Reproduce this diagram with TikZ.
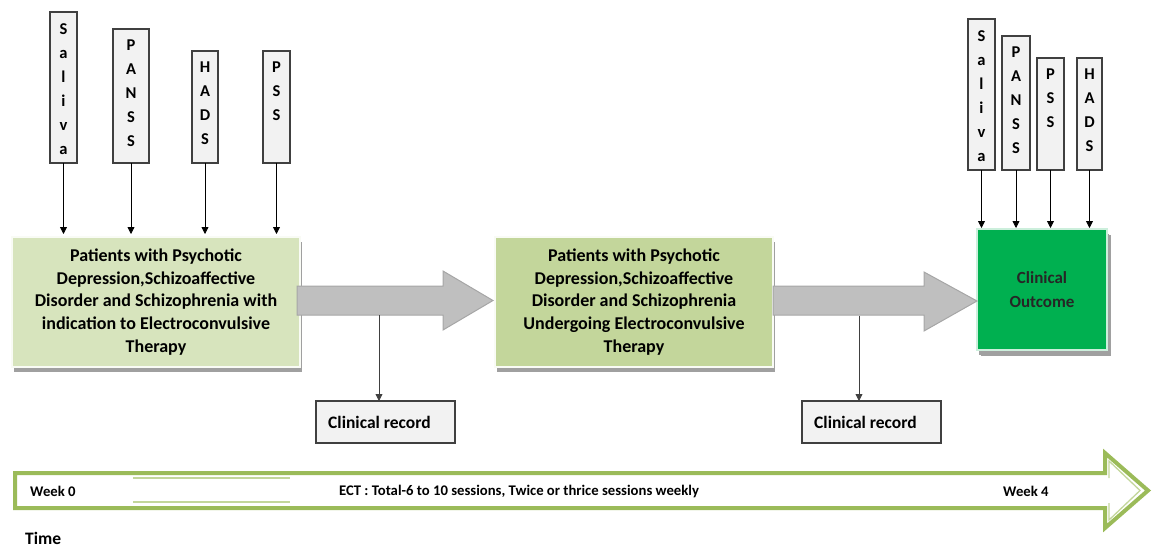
\documentclass[tikz,border=0pt]{standalone}
\usepackage{fontspec}
\setmainfont{Carlito}
\usetikzlibrary{arrows.meta,shadows}
\definecolor{boxgray}{HTML}{F2F2F2}
\definecolor{edgegray}{HTML}{404040}
\definecolor{lightolive}{HTML}{D7E4BD}
\definecolor{midolive}{HTML}{C3D69B}
\definecolor{olive}{HTML}{9BBB59}
\definecolor{brightgreen}{HTML}{00B050}
\definecolor{arrowgray}{HTML}{BFBFBF}
\definecolor{arrowedge}{HTML}{A6A6A6}
\definecolor{shadowgray}{HTML}{A0A0A0}
\begin{document}
\begin{tikzpicture}[x=1pt,y=-1pt,
  vbox/.style={draw=edgegray, fill=boxgray, line width=1.1pt, anchor=north west, inner sep=0pt, outer sep=0pt},
  letters/.style={anchor=north, inner sep=0pt, align=center, font=\fontsize{16.5}{24}\selectfont\bfseries},
  feed/.style={-{Triangle[width=7pt,length=7pt]}, line width=0.8pt, black},
  mainbox/.style={draw=white!85!lightolive, line width=2pt, anchor=north west, inner sep=0pt, outer sep=0pt, align=center,
     font=\fontsize{18}{22.75}\selectfont\bfseries,
     drop shadow={shadow xshift=2pt, shadow yshift=-5pt, fill=shadowgray, opacity=1}},
  blockarrow/.style={fill=arrowgray, draw=arrowedge, line width=1pt},
  recbox/.style={draw=edgegray, fill=boxgray, line width=1.1pt, anchor=north west, inner sep=0pt, outer sep=0pt,
     minimum width=139pt, minimum height=42pt},
  rectext/.style={anchor=west, inner sep=0pt, font=\fontsize{17.5}{20}\selectfont\bfseries},
  drop/.style={line width=0.8pt, edgegray, -{Triangle[width=7pt,length=7pt]}},
  tltext/.style={inner sep=0pt, font=\fontsize{14.7}{17}\selectfont\bfseries}
]
\useasboundingbox (0,0) rectangle (1152,547);

% ---- left measurement boxes
\node[vbox, minimum width=27pt, minimum height=151pt] (s1) at (50,12) {};
\node[vbox, minimum width=36pt, minimum height=134pt] (p1) at (113,29) {};
\node[vbox, minimum width=26pt, minimum height=112pt] (h1) at (192,51) {};
\node[vbox, minimum width=27pt, minimum height=112pt] (q1) at (263,51) {};
\node[letters] (s1t) at ([yshift=-11pt]s1.north) {S\\a\\l\\i\\v\\a};
\node[letters] (p1t) at ([yshift=-11pt]p1.north) {P\\A\\N\\S\\S};
\node[letters] (h1t) at ([yshift=-11pt]h1.north) {H\\A\\D\\S};
\node[letters] (q1t) at ([yshift=-11pt]q1.north) {P\\S\\S};

% ---- right measurement boxes
\node[vbox, minimum width=27pt, minimum height=151pt] (s2) at (968,19) {};
\node[vbox, minimum width=28pt, minimum height=134pt] (p2) at (1002,36) {};
\node[vbox, minimum width=27pt, minimum height=112pt] (q2) at (1037,58) {};
\node[vbox, minimum width=25pt, minimum height=112pt] (h2) at (1077,58) {};
\node[letters] (s2t) at ([yshift=-11pt]s2.north) {S\\a\\l\\i\\v\\a};
\node[letters] (p2t) at ([yshift=-11pt]p2.north) {P\\A\\N\\S\\S};
\node[letters] (q2t) at ([yshift=-11pt]q2.north) {P\\S\\S};
\node[letters] (h2t) at ([yshift=-11pt]h2.north) {H\\A\\D\\S};

% ---- main boxes
\node[mainbox, fill=lightolive, minimum width=288pt, minimum height=130pt] (m1) at (12,237)
  {Patients with Psychotic\\Depression,Schizoaffective\\Disorder and Schizophrenia with\\indication to Electroconvulsive\\Therapy};
\node[mainbox, fill=midolive, minimum width=278pt, minimum height=130pt] (m2) at (495,237)
  {Patients with Psychotic\\Depression,Schizoaffective\\Disorder and Schizophrenia\\Undergoing Electroconvulsive\\Therapy};
\node[mainbox, fill=brightgreen, draw=white!80!brightgreen, minimum width=130pt, minimum height=121pt,
  font=\fontsize{17}{24}\selectfont\bfseries, text=black!85,
  drop shadow={shadow xshift=4pt, shadow yshift=-6pt, fill=shadowgray, opacity=1}] (g) at (977,229)
  {Clinical\\Outcome};

% ---- feed arrows
\draw[feed] (s1.south) -- ([yshift=3pt]s1.south |- m1.north);
\draw[feed] (p1.south) -- ([yshift=3pt]p1.south |- m1.north);
\draw[feed] (h1.south) -- ([yshift=3pt]h1.south |- m1.north);
\draw[feed] (q1.south) -- ([yshift=3pt]q1.south |- m1.north);
\draw[feed] (s2.south) -- ([yshift=1pt]s2.south |- g.north);
\draw[feed] (p2.south) -- ([yshift=1pt]p2.south |- g.north);
\draw[feed] (q2.south) -- ([yshift=1pt]q2.south |- g.north);
\draw[feed] (h2.south) -- ([yshift=1pt]h2.south |- g.north);

% ---- block arrows
\coordinate (a1) at (297,300.5);
\draw[blockarrow] (a1) ++(0,-14.5) -- ++(146,0) -- ++(0,-15) -- ++(50,29.5) -- ++(-50,29.5) -- ++(0,-15) -- ++(-146,0) -- cycle;
\coordinate (a1b) at (379,315);
\coordinate (a2) at (773,300.5);
\draw[blockarrow] (a2) ++(0,-14.5) -- ++(151,0) -- ++(0,-14) -- ++(53,29) -- ++(-53,30) -- ++(0,-16) -- ++(-151,0) -- cycle;
\coordinate (a2b) at (859,315.5);

% ---- clinical records
\node[recbox] (r1) at (316,401) {};
\node[rectext] (r1t) at ([xshift=12pt]r1.west) {Clinical record};
\node[recbox] (r2) at (802,401) {};
\node[rectext] (r2t) at ([xshift=12pt]r2.west) {Clinical record};
\draw[drop] (a1b) -- (a1b |- r1.north);
\draw[drop] (a2b) -- (a2b |- r2.north);

% ---- timeline arrow
\draw[olive, line width=4pt, line join=miter] (15,473) -- (1105,473) -- (1105,453) -- (1148,490.5) -- (1105,528) -- (1105,508) -- (15,508) -- cycle;
\draw[midolive, line width=1.3pt] (1109,478) -- (1109,461) -- (1140,490.5) -- (1109,520) -- (1109,503);
\draw[midolive, line width=2pt] (133,478) -- (290,478);
\draw[midolive, line width=2pt] (133,502) -- (290,502);
\node[tltext, anchor=west] (w0) at (30,491) {Week 0};
\node[tltext] (ect) at (519,491) {ECT : Total-6 to 10 sessions, Twice or thrice sessions weekly};
\node[tltext, anchor=west] (w4) at (1003,491) {Week 4};
\node[inner sep=0pt, anchor=west, font=\fontsize{17.5}{20}\selectfont\bfseries] (time) at (25,538) {Time};
\end{tikzpicture}
\end{document}
